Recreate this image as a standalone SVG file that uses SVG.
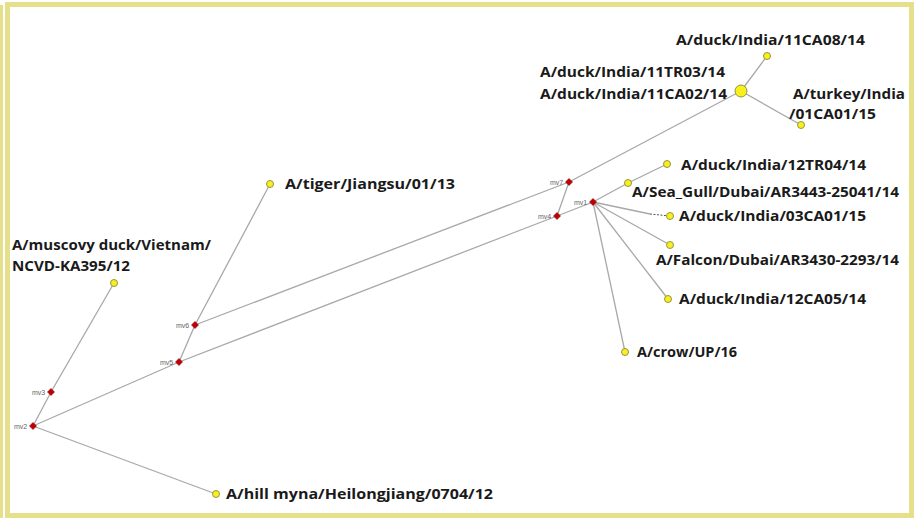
<svg xmlns="http://www.w3.org/2000/svg" width="914" height="518" viewBox="0 0 914 518">
<style>
.e{stroke:#a8a8a8;stroke-width:1.3;fill:none}
.mv{fill:#c00000;stroke:#8b0000;stroke-width:0.6}
.hap{fill:#f7ef1e;stroke:#8a8a40;stroke-width:0.9}
.lb{font-family:"Open Sans","Liberation Sans",sans-serif;font-weight:bold;font-size:14.5px;fill:#1a1a1a}
.ml{font-family:"Liberation Sans",sans-serif;font-size:7px;fill:#666}
</style>
<defs>
<path id="dm" d="M0,-3.5 L3.5,0 L0,3.5 L-3.5,0 Z"/>
</defs>
<rect x="0" y="0" width="914" height="518" fill="#ffffff"/>
<g id="frame" fill="#e6e08c">
<rect x="0" y="5" width="3" height="513"/>
<rect x="5" y="2" width="909" height="5"/>
<rect x="5" y="2" width="5" height="516"/>
<rect x="909" y="2" width="5" height="516"/>
<rect x="5" y="513" width="909" height="5"/>
</g>
<g id="connectors">
<line class="e" x1="33" y1="426" x2="51" y2="392"/>
<line class="e" x1="51" y1="392" x2="114" y2="283"/>
<line class="e" x1="33" y1="426" x2="179" y2="362"/>
<line class="e" x1="33" y1="426" x2="216" y2="494"/>
<line class="e" x1="179" y1="362" x2="195" y2="325"/>
<line class="e" x1="195" y1="325" x2="270" y2="184"/>
<line class="e" x1="195" y1="325" x2="569" y2="182"/>
<line class="e" x1="179" y1="362" x2="557" y2="216"/>
<line class="e" x1="569" y1="182" x2="557" y2="216"/>
<line class="e" x1="557" y1="216" x2="593" y2="202"/>
<line class="e" x1="569" y1="182" x2="741" y2="91"/>
<line class="e" x1="741" y1="91" x2="767" y2="56"/>
<line class="e" x1="741" y1="91" x2="801" y2="125"/>
<line class="e" x1="593" y1="202" x2="628" y2="183"/>
<line class="e" x1="628" y1="183" x2="667" y2="164"/>
<line class="e" x1="593" y1="202" x2="650" y2="214"/>
<line x1="650" y1="214" x2="670" y2="216" stroke="#555" stroke-width="1" stroke-dasharray="2,1.5"/>
<line class="e" x1="593" y1="202" x2="670" y2="245"/>
<line class="e" x1="593" y1="202" x2="668" y2="299"/>
<line class="e" x1="593" y1="202" x2="625" y2="352"/>
</g>
<g id="mv2"><use href="#dm" class="mv" x="33" y="426"/><text class="ml" x="14" y="429">mv2</text></g>
<g id="mv3"><use href="#dm" class="mv" x="51" y="392"/><text class="ml" x="32" y="395">mv3</text></g>
<g id="mv5"><use href="#dm" class="mv" x="179" y="362"/><text class="ml" x="160" y="365">mv5</text></g>
<g id="mv6"><use href="#dm" class="mv" x="195" y="325"/><text class="ml" x="176" y="328">mv6</text></g>
<g id="mv4"><use href="#dm" class="mv" x="557" y="216"/><text class="ml" x="538" y="219">mv4</text></g>
<g id="mv7"><use href="#dm" class="mv" x="569" y="182"/><text class="ml" x="550" y="185">mv7</text></g>
<g id="mv1"><use href="#dm" class="mv" x="593" y="202"/><text class="ml" x="574" y="205">mv1</text></g>
<g id="muscovy"><circle class="hap" cx="114" cy="283" r="3.5"/><text class="lb" x="12" y="250" textLength="199" lengthAdjust="spacingAndGlyphs">A/muscovy duck/Vietnam/</text><text class="lb" x="12" y="271" textLength="118" lengthAdjust="spacingAndGlyphs">NCVD-KA395/12</text></g>
<g id="tiger"><circle class="hap" cx="270" cy="184" r="3.5"/><text class="lb" x="285" y="189" textLength="170" lengthAdjust="spacingAndGlyphs">A/tiger/Jiangsu/01/13</text></g>
<g id="hillmyna"><circle class="hap" cx="216" cy="494" r="3.5"/><text class="lb" x="226" y="499" textLength="267" lengthAdjust="spacingAndGlyphs">A/hill myna/Heilongjiang/0704/12</text></g>
<g id="duck11TR03"><circle class="hap" cx="741" cy="91" r="6"/><text class="lb" x="540" y="77" textLength="185" lengthAdjust="spacingAndGlyphs">A/duck/India/11TR03/14</text><text class="lb" x="540" y="99" textLength="187" lengthAdjust="spacingAndGlyphs">A/duck/India/11CA02/14</text></g>
<g id="duck11CA08"><circle class="hap" cx="767" cy="56" r="3.5"/><text class="lb" x="676" y="45" textLength="189" lengthAdjust="spacingAndGlyphs">A/duck/India/11CA08/14</text></g>
<g id="turkey"><circle class="hap" cx="801" cy="125" r="3.5"/><text class="lb" x="793" y="99" textLength="112" lengthAdjust="spacingAndGlyphs">A/turkey/India</text><text class="lb" x="789" y="119" textLength="87" lengthAdjust="spacingAndGlyphs">/01CA01/15</text></g>
<g id="duck12TR04"><circle class="hap" cx="667" cy="164" r="3.5"/><text class="lb" x="681" y="170" textLength="185" lengthAdjust="spacingAndGlyphs">A/duck/India/12TR04/14</text></g>
<g id="seagull"><circle class="hap" cx="628" cy="183" r="3.5"/><text class="lb" x="632" y="197" textLength="267" lengthAdjust="spacingAndGlyphs">A/Sea_Gull/Dubai/AR3443-25041/14</text></g>
<g id="duck03CA01"><circle class="hap" cx="670" cy="216" r="3.5"/><text class="lb" x="679" y="221" textLength="187" lengthAdjust="spacingAndGlyphs">A/duck/India/03CA01/15</text></g>
<g id="falcon"><circle class="hap" cx="670" cy="245" r="3.5"/><text class="lb" x="656" y="265" textLength="243" lengthAdjust="spacingAndGlyphs">A/Falcon/Dubai/AR3430-2293/14</text></g>
<g id="duck12CA05"><circle class="hap" cx="668" cy="299" r="3.5"/><text class="lb" x="679" y="304" textLength="187" lengthAdjust="spacingAndGlyphs">A/duck/India/12CA05/14</text></g>
<g id="crow"><circle class="hap" cx="625" cy="352" r="3.5"/><text class="lb" x="637" y="357" textLength="100" lengthAdjust="spacingAndGlyphs">A/crow/UP/16</text></g>
</svg>
